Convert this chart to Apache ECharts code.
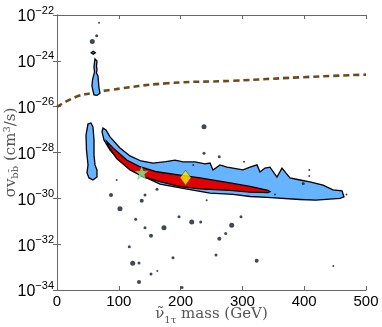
<!DOCTYPE html>
<html>
<head>
<meta charset="utf-8">
<script src="https://cdn.jsdelivr.net/npm/echarts@6/dist/echarts.min.js"></script>
<style>
  html, body { margin: 0; padding: 0; background: #fff; }
  #chart { width: 382px; height: 327px; }
</style>
</head>
<body>
<div id="chart"></div>
<script>
// x: sneutrino mass (GeV), y: log10 of sigma*v (cm^3/s)
const xTicks = [0, 100, 200, 300, 400, 500];
const yTicks = [-34, -32, -30, -28, -26, -24, -22];

// 2 sigma region (light blue)
const bandOuter = [
  [74.4, -26.93], [79.3, -27.02], [85.8, -27.32], [101.9, -27.80], [118.1, -28.15],
  [135.9, -28.37], [155.3, -28.46], [176.4, -28.40], [190.9, -28.33], [203.9, -28.41],
  [223.3, -28.41], [239.5, -28.50], [247.6, -28.46], [252.4, -28.76], [263.7, -28.54],
  [275.1, -28.64], [284.8, -28.68], [300.9, -28.76], [312.3, -28.64], [323.6, -28.54],
  [328.5, -28.85], [336.5, -28.68], [344.6, -28.64], [355.9, -29.07], [364.0, -28.68],
  [377.0, -29.11], [393.2, -29.20], [409.3, -29.28], [430.4, -29.42], [446.6, -29.63],
  [461.2, -29.67], [464.4, -29.94], [457.9, -30.00], [419.1, -30.08], [393.2, -30.05],
  [339.8, -29.96], [312.3, -29.92], [284.8, -29.83], [247.6, -29.77], [203.9, -29.57],
  [166.7, -29.38], [139.1, -29.03], [118.1, -28.68], [97.1, -28.23], [85.8, -27.90],
  [76.0, -27.45], [72.8, -27.10]
];
const blobLeft = [
  [50.2, -26.75], [55.0, -26.71], [58.2, -26.89], [59.9, -27.45], [59.9, -28.11],
  [61.5, -28.54], [64.7, -28.76], [64.7, -29.07], [58.2, -29.20], [51.8, -29.11],
  [48.5, -28.89], [50.2, -28.54], [47.7, -27.90], [46.9, -27.24]
];
const blobUpper = [
  [61.5, -23.92], [64.7, -24.01], [63.9, -24.22], [64.7, -24.40], [63.9, -24.53],
  [66.3, -24.66], [67.1, -24.92], [68.0, -25.19], [69.6, -25.41], [64.7, -25.51],
  [59.9, -25.49], [58.2, -25.31], [56.6, -25.10], [57.4, -24.84], [59.1, -24.66],
  [60.7, -24.49], [59.9, -24.27], [60.7, -24.05]
];
const blobSpeck = [[55.3, -23.65], [58.7, -23.58], [62.0, -23.65], [58.7, -23.71]];

// 1 sigma region (red)
const bandCore = [
  [80.4, -27.52], [91.1, -27.81], [112.8, -28.33], [134.3, -28.62], [161.3, -28.84],
  [199.0, -28.99], [231.4, -29.11], [279.9, -29.33], [312.3, -29.48], [341.4, -29.65],
  [344.6, -29.71], [341.4, -29.75], [312.3, -29.73], [279.9, -29.65], [231.4, -29.59],
  [199.0, -29.49], [166.7, -29.27], [139.6, -29.06], [118.1, -28.76], [96.6, -28.26],
  [83.0, -27.72]
];

// relic density line (dashed)
const relicLine = [
  [0, -26.01], [32, -25.56], [59, -25.40], [86, -25.27], [178, -24.98],
  [285, -24.87], [393, -24.72], [500, -24.60]
];

// scattered points
const dotsBig = [
  [57.1, -23.16], [237.9, -26.88], [101.9, -30.45], [173.1, -31.28], [218.0, -31.03],
  [282.7, -31.17], [122.5, -32.83]
];
const dotsMid = [
  [87.4, -29.85], [137.1, -30.10], [152.1, -31.63], [262.6, -31.76], [132.7, -33.65],
  [323.1, -32.72]
];
const dotsSmall = [
  [64.2, -22.91], [237.9, -28.03], [262.6, -28.18], [398.5, -29.35], [142.4, -29.85],
  [161.8, -29.60], [127.3, -30.91], [142.4, -31.28], [197.4, -30.80], [232.5, -31.03],
  [297.7, -30.80], [273.0, -31.53], [117.0, -32.11], [132.7, -32.82], [152.1, -33.30],
  [187.7, -32.59], [202.3, -33.89], [257.3, -32.47]
];
const dotsTiny = [
  [68.0, -22.34], [302.6, -28.40], [220.5, -28.54], [408.3, -28.76], [408.3, -29.02],
  [352.8, -29.83], [468.4, -29.83], [96.6, -29.20], [242.2, -30.08], [162.3, -33.17],
  [447.1, -32.95]
];

const starPoint = [137, -28.88];
const diamondPoint = [208, -29.10];

const chart = echarts.init(document.getElementById('chart'));

function polySeries(pts, fill, z) {
  return {
    type: 'custom',
    z: z,
    silent: true,
    data: [pts[0]],
    renderItem: function (params, api) {
      return {
        type: 'polygon',
        shape: { points: pts.map(function (p) { return api.coord(p); }) },
        style: { fill: fill, stroke: '#000', lineWidth: 1.3 }
      };
    }
  };
}

function dotSeries(pts, size) {
  return {
    type: 'scatter',
    z: 5,
    data: pts,
    symbol: 'circle',
    symbolSize: size,
    itemStyle: { color: '#111a2a' }
  };
}

const axisGray = '#666';
const starPath = 'path://M0,-10 L2.35,-3.24 L9.51,-3.09 L3.8,1.24 L5.88,8.09 L0,4 L-5.88,8.09 L-3.8,1.24 L-9.51,-3.09 L-2.35,-3.24 Z';

const option = {
  animation: false,
  grid: { left: 57, right: 16, top: 15, bottom: 37, outerBoundsMode: 'none', containLabel: false },
  xAxis: [{
    type: 'value', min: 0, max: 500, interval: 100,
    axisLine: { lineStyle: { color: axisGray } },
    axisTick: { inside: true, length: 4, lineStyle: { color: axisGray } },
    axisLabel: { color: '#000', fontSize: 15, fontFamily: 'Liberation Sans', margin: 4 },
    splitLine: { show: false },
    name: '{m|ν̃}{sub|1τ}{m| mass (GeV)}',
    nameLocation: 'middle',
    nameGap: 17,
    nameMoveOverlap: false,
    nameTextStyle: {
      rich: {
        m: { fontSize: 15, fontFamily: 'DejaVu Serif', color: '#555', verticalAlign: 'bottom' },
        sub: { fontSize: 10, fontFamily: 'DejaVu Serif', color: '#555', verticalAlign: 'bottom', padding: [0, 0, -3, 0] }
      }
    }
  }, {
    type: 'value', min: 0, max: 500, interval: 100, position: 'top',
    axisLine: { lineStyle: { color: axisGray } },
    axisTick: { inside: true, length: 4, lineStyle: { color: axisGray } },
    axisLabel: { show: false },
    splitLine: { show: false }
  }],
  yAxis: [{
    type: 'value', min: -34, max: -22, interval: 2,
    axisLine: { lineStyle: { color: axisGray } },
    axisTick: { inside: true, length: 4, lineStyle: { color: axisGray } },
    axisLabel: {
      margin: 3,
      formatter: function (v) { return '{b|10}{s|−' + Math.abs(v) + '}'; },
      rich: {
        b: { fontSize: 16, fontFamily: 'Liberation Sans', color: '#000', verticalAlign: 'bottom' },
        s: { fontSize: 11, fontFamily: 'Liberation Sans', color: '#000', verticalAlign: 'top', padding: [0, 0, 9, 0] }
      }
    },
    splitLine: { show: false },
    name: '{m|σv}{sub|bb̄}{m| (cm}{sup|3}{m|/s)}',
    nameLocation: 'middle',
    nameRotate: 90,
    nameGap: 37,
    nameMoveOverlap: false,
    nameTextStyle: {
      rich: {
        m: { fontSize: 15, fontFamily: 'DejaVu Serif', color: '#555' },
        sub: { fontSize: 10, fontFamily: 'DejaVu Serif', color: '#555', padding: [8, 0, 0, 0] },
        sup: { fontSize: 10, fontFamily: 'DejaVu Serif', color: '#555', padding: [0, 0, 8, 0] }
      }
    }
  }, {
    type: 'value', min: -34, max: -22, interval: 2, position: 'right',
    axisLine: { lineStyle: { color: axisGray } },
    axisTick: { inside: true, length: 4, lineStyle: { color: axisGray } },
    axisLabel: { show: false },
    splitLine: { show: false }
  }],
  series: [
    {
      type: 'line',
      z: 1,
      data: relicLine,
      smooth: true,
      showSymbol: false,
      silent: true,
      lineStyle: { color: '#6b4a1c', width: 2.6, type: [6, 4] }
    },
    polySeries(bandOuter, '#66b3ff', 2),
    polySeries(blobLeft, '#66b3ff', 2),
    polySeries(blobUpper, '#66b3ff', 2),
    polySeries(blobSpeck, '#66b3ff', 2),
    polySeries(bandCore, '#e00000', 3),
    dotSeries(dotsBig, 5),
    dotSeries(dotsMid, 4),
    dotSeries(dotsSmall, 3),
    dotSeries(dotsTiny, 2),
    {
      type: 'scatter', z: 6, data: [starPoint], symbol: starPath, symbolSize: 13,
      itemStyle: { color: '#7ef29a', borderColor: '#4cae6a', borderWidth: 0.5 }
    },
    {
      type: 'scatter', z: 6, data: [diamondPoint], symbol: 'diamond', symbolSize: [11, 15],
      itemStyle: { color: '#ffee00', borderColor: '#333', borderWidth: 0.6 }
    }
  ]
};

chart.setOption(option);
</script>
</body>
</html>
